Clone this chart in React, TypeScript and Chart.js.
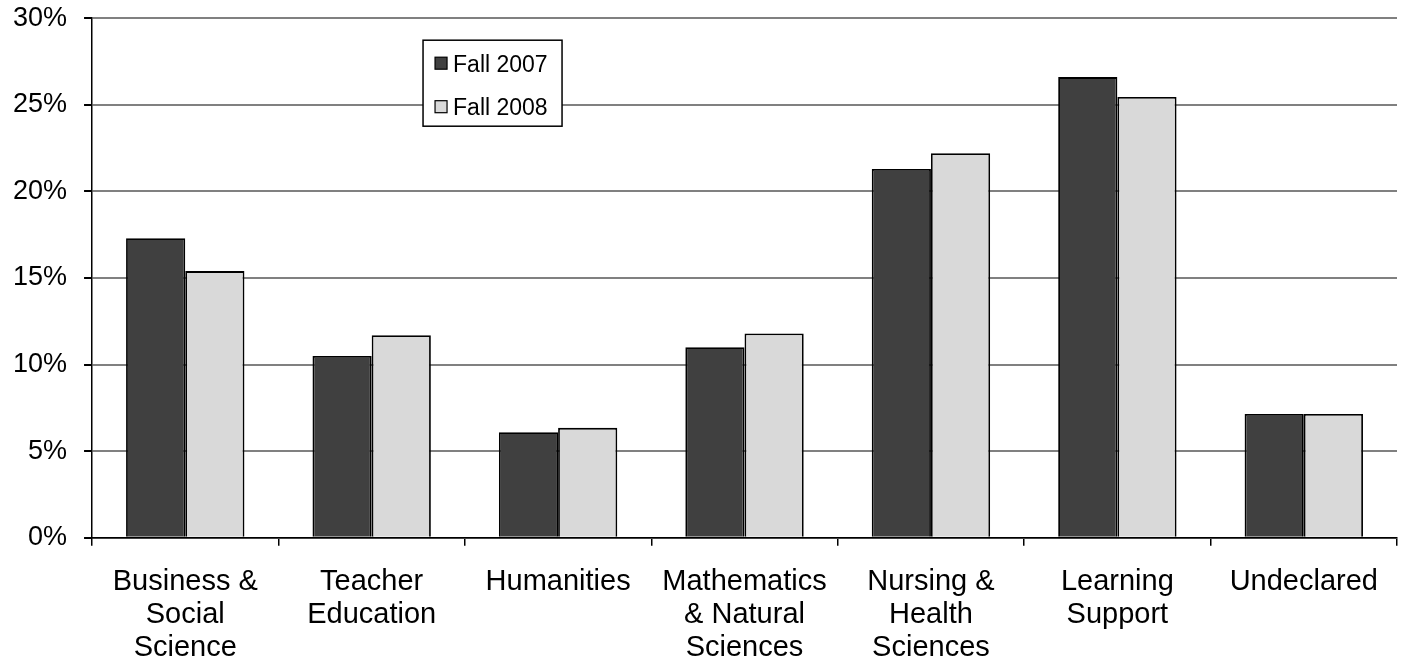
import React, { useEffect, useRef } from "react";
import { Chart, registerables } from "chart.js";

Chart.register(...registerables);

const categories: string[][] = [
  ["Business &", "Social", "Science"],
  ["Teacher", "Education"],
  ["Humanities"],
  ["Mathematics", "& Natural", "Sciences"],
  ["Nursing &", "Health", "Sciences"],
  ["Learning", "Support"],
  ["Undeclared"],
];
const seriesNames = ["Fall 2007", "Fall 2008"];
const fall2007 = [17.3, 10.5, 6.1, 11.0, 21.3, 26.6, 7.15];
const fall2008 = [15.4, 11.7, 6.35, 11.8, 22.2, 25.45, 7.15];
const yTicks = [0, 5, 10, 15, 20, 25, 30];

const FONT = '"Liberation Sans", Arial, sans-serif';

const boxLegend = {
  id: "boxLegend",
  afterDraw(chart: any) {
    const ctx = chart.ctx;
    const a = chart.chartArea;
    const x = a.left + 331;
    const y = a.top + 22;
    const w = 139;
    const h = 86;
    ctx.save();
    ctx.fillStyle = "#ffffff";
    ctx.fillRect(x, y, w, h);
    ctx.strokeStyle = "#000000";
    ctx.lineWidth = 1.5;
    ctx.strokeRect(x, y, w, h);
    chart.data.datasets.forEach((ds: any, i: number) => {
      const cy = y + 23 + i * 43.5;
      ctx.fillStyle = ds.backgroundColor;
      ctx.fillRect(x + 12, cy - 6, 12, 12);
      ctx.lineWidth = 1.2;
      ctx.strokeRect(x + 12, cy - 6, 12, 12);
      ctx.fillStyle = "#000000";
      ctx.font = `23px ${FONT}`;
      ctx.textBaseline = "middle";
      ctx.textAlign = "left";
      ctx.fillText(ds.label, x + 30, cy + 2);
    });
    ctx.restore();
  },
};

export default function App() {
  const ref = useRef<HTMLCanvasElement>(null);
  useEffect(() => {
    if (!ref.current) return;
    const chart = new Chart(ref.current, {
      type: "bar",
      data: {
        labels: categories,
        datasets: [
          {
            label: seriesNames[0],
            data: fall2007,
            backgroundColor: "#404040",
            borderColor: "#000000",
            borderWidth: 1.8,
            categoryPercentage: 0.635,
            barPercentage: 1.0,
          },
          {
            label: seriesNames[1],
            data: fall2008,
            backgroundColor: "#d9d9d9",
            borderColor: "#000000",
            borderWidth: 1.8,
            categoryPercentage: 0.635,
            barPercentage: 1.0,
          },
        ],
      },
      options: {
        responsive: false,
        animation: false,
        layout: { padding: { top: 0, right: 6, left: -4, bottom: -19 } },
        plugins: {
          legend: { display: false },
          tooltip: { enabled: false },
        },
        scales: {
          x: {
            grid: {
              display: true,
              drawOnChartArea: false,
              offset: true,
              tickLength: 8,
              tickColor: "#000000",
              lineWidth: 1.5,
            },
            border: { color: "#000000", width: 1.5 },
            ticks: {
              color: "#000000",
              font: { family: FONT, size: 29, lineHeight: 1.14 },
              padding: 20,
              maxRotation: 0,
              autoSkip: false,
            },
          },
          y: {
            min: 0,
            max: 30,
            afterBuildTicks: (axis: any) => {
              axis.ticks = yTicks.map((v) => ({ value: v }));
            },
            grid: {
              color: "#808080",
              lineWidth: 2,
              tickLength: 8,
              tickColor: "#000000",
            },
            border: { color: "#000000", width: 1.5 },
            ticks: {
              color: "#000000",
              font: { family: FONT, size: 27 },
              padding: 17,
              callback: (v: any) => `${v}%`,
            },
          },
        },
      },
      plugins: [boxLegend],
    });
    return () => chart.destroy();
  }, []);
  return (
    <div style={{ position: "absolute", left: 0, top: 0, width: 1403, height: 661, background: "#fff", overflow: "hidden" }}>
      <canvas ref={ref} width={1403} height={681} style={{ position: "absolute", left: 0, top: -15 }} />
    </div>
  );
}
